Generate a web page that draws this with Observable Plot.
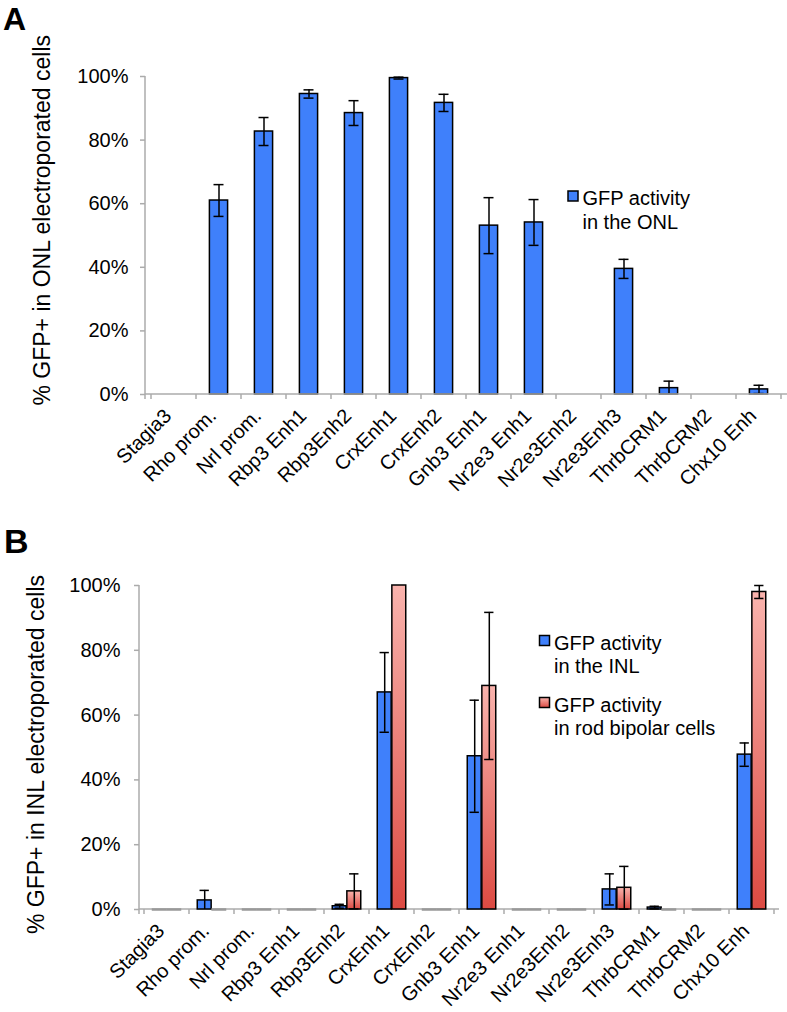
<!DOCTYPE html>
<html>
<head>
<meta charset="utf-8">
<script src="https://cdn.jsdelivr.net/npm/d3@7"></script>
<script src="https://cdn.jsdelivr.net/npm/@observablehq/plot@0.6"></script>
<style>
  body { margin: 0; background: #fff; font-family: "Liberation Sans", Arial, Helvetica, sans-serif; }
  #wrap { position: relative; width: 787px; height: 1012px; overflow: hidden; background: #fff; }
  #wrap svg { position: absolute; left: 0; overflow: visible; }
</style>
</head>
<body>
<div id="wrap"></div>
<script>
// ---------- data ----------
const categories = ["Stagia3", "Rho prom.", "Nrl prom.", "Rbp3 Enh1", "Rbp3Enh2", "CrxEnh1", "CrxEnh2",
  "Gnb3 Enh1", "Nr2e3 Enh1", "Nr2e3Enh2", "Nr2e3Enh3", "ThrbCRM1", "ThrbCRM2", "Chx10 Enh"];
// Panel A: GFP activity in the ONL (%)
const onlValues = [0, 61, 82.7, 94.5, 88.5, 99.5, 91.7, 53.1, 54.1, 0, 39.5, 2, 0, 1.6];
const onlErrors = [0, 5, 4.4, 1.3, 3.9, 0.3, 2.7, 8.8, 7.2, 0, 3, 2.2, 0, 1.3];
// Panel B: GFP activity in the INL (%)
const inlValues = [0, 2.8, 0, 0, 1.0, 67, 0, 47.3, 0, 0, 6.2, 0.6, 0, 47.8];
const inlErrors = [0, 3.1, 0, 0, 0.6, 12.3, 0, 17.3, 0, 0, 4.8, 0.4, 0, 3.6];
// Panel B: GFP activity in rod bipolar cells (%)
const rodValues = [0, 0, 0, 0, 5.6, 100, 0, 69, 0, 0, 6.7, 0, 0, 98];
const rodErrors = [0, 0, 0, 0, 5.4, 0, 0, 22.7, 0, 0, 6.6, 0, 0, 2];
const yTicks = [0, 20, 40, 60, 80, 100];
const legendA = ["GFP activity", "in the ONL"];
const legendInl = ["GFP activity", "in the INL"];
const legendRod = ["GFP activity", "in rod bipolar cells"];
const yLabelA = "% GFP+ in ONL electroporated cells";
const yLabelB = "% GFP+ in INL electroporated cells";

// ---------- styles ----------
const BLUE = "#3f80fb";
const AXIS = "#ababab";
const FONT = "'Liberation Sans', Arial, Helvetica, sans-serif";

const rows = (vals, errs) => categories.map((c, i) => ({category: c, value: vals[i], err: errs[i]}));
const dataA = rows(onlValues, onlErrors);
const dataInl = rows(inlValues, inlErrors);
const dataRod = rows(rodValues, rodErrors);
const nz = d => d.value > 0;
const hasErr = d => d.err > 0;
const lowErr = d => d.err > 0 && d.value - d.err > 0;

// custom mark drawing the axis lines and category boundary ticks with Plot's scales
function axisFrame() {
  return (index, scales, values, dims) => {
    const {x, y} = scales;
    const g = d3.create("svg:g").attr("stroke", AXIS).attr("stroke-width", 1.5).attr("fill", "none");
    const x0 = dims.marginLeft, x1 = dims.width - dims.marginRight;
    const yb = y(0), yt = y(100);
    g.append("line").attr("x1", x0).attr("x2", x0).attr("y1", yt).attr("y2", yb + 5);
    g.append("line").attr("x1", x0).attr("x2", x1).attr("y1", yb).attr("y2", yb);
    const bw = x.bandwidth();
    const dom = x.domain();
    const bounds = dom.map(c => x(c)).concat([x(dom[dom.length - 1]) + bw]);
    for (const b of bounds) g.append("line").attr("x1", b).attr("x2", b).attr("y1", yb).attr("y2", yb + 5);
    return g.node();
  };
}

const commonY = {domain: [0, 100], ticks: yTicks};
const axisYOpts = {ticks: yTicks, tickFormat: d => d + "%", tickSize: 5, tickPadding: 12, stroke: AXIS, strokeWidth: 1.5, label: null, fontSize: 20};
const axisXOpts = {tickRotate: -45, tickSize: 0, tickPadding: 18, label: null, fontSize: 20, dx: -6};

// ---------- Panel A ----------
const plotA = Plot.plot({
  width: 787, height: 480,
  marginLeft: 145, marginRight: 0, marginTop: 76, marginBottom: 86,
  style: {fontFamily: FONT, fontSize: "20px", color: "black", background: "transparent", overflow: "visible"},
  x: {domain: categories, padding: 0},
  y: commonY,
  marks: [
    Plot.barY(dataA.filter(nz), {x: "category", y: "value", fill: BLUE, stroke: "black", strokeWidth: 1.5, insetLeft: 13.4, insetRight: 13.4}),
    Plot.ruleX(dataA.filter(hasErr), {x: "category", y1: d => Math.max(0, d.value - d.err), y2: d => d.value + d.err, stroke: "black", strokeWidth: 1.5}),
    Plot.tickY(dataA.filter(hasErr), {x: "category", y: d => d.value + d.err, stroke: "black", strokeWidth: 1.5, insetLeft: 17.5, insetRight: 17.5}),
    Plot.tickY(dataA.filter(lowErr), {x: "category", y: d => d.value - d.err, stroke: "black", strokeWidth: 1.5, insetLeft: 17.5, insetRight: 17.5}),
    axisFrame(),
    Plot.axisY(axisYOpts),
    Plot.axisX(axisXOpts)
  ]
});

// ---------- Panel B ----------
const BW = 14.6; // bar width in px
const half = BW / 2;
const barInset = 45.7 / 2 - half;
const errInset = 45.7 / 2 - 5;
function seriesMarks(data, fill, dx) {
  return [
    Plot.tickY(data.filter(d => d.value === 0), {x: "category", y: 0, stroke: "#999999", strokeWidth: 2.5, insetLeft: barInset - 0.5, insetRight: barInset - 0.5, dx}),
    Plot.barY(data.filter(nz), {x: "category", y: "value", fill, stroke: "black", strokeWidth: 1.5, insetLeft: barInset, insetRight: barInset, dx}),
    Plot.ruleX(data.filter(hasErr), {x: "category", y1: d => Math.max(0, d.value - d.err), y2: d => d.value + d.err, stroke: "black", strokeWidth: 1.5, dx}),
    Plot.tickY(data.filter(hasErr), {x: "category", y: d => d.value + d.err, stroke: "black", strokeWidth: 1.5, insetLeft: errInset, insetRight: errInset, dx}),
    Plot.tickY(data.filter(lowErr), {x: "category", y: d => d.value - d.err, stroke: "black", strokeWidth: 1.5, insetLeft: errInset, insetRight: errInset, dx})
  ];
}
const plotB = Plot.plot({
  width: 787, height: 532,
  marginLeft: 139, marginRight: 8, marginTop: 105, marginBottom: 103,
  style: {fontFamily: FONT, fontSize: "20px", color: "black", background: "transparent", overflow: "visible"},
  x: {domain: categories, padding: 0},
  y: commonY,
  marks: [
    axisFrame(),
    ...seriesMarks(dataInl, BLUE, -half),
    ...seriesMarks(dataRod, "url(#pinkGrad)", half),
    Plot.axisY({...axisYOpts, tickPadding: 14}),
    Plot.axisX(axisXOpts)
  ]
});

const wrap = document.getElementById("wrap");
plotA.style.top = "0px";
plotB.style.top = "480px";
wrap.appendChild(plotB);
wrap.appendChild(plotA);

// gradient for the pink series
const defs = d3.select(plotB).insert("defs", ":first-child");
const grad = defs.append("linearGradient").attr("id", "pinkGrad").attr("x1", 0).attr("y1", 0).attr("x2", 0).attr("y2", 1);
grad.append("stop").attr("offset", "0%").attr("stop-color", "#f9b3ad");
grad.append("stop").attr("offset", "100%").attr("stop-color", "#dc4a42");

// ---------- annotations ----------
function addText(svg, txt, x, y, opts = {}) {
  const t = d3.select(svg).append("text").attr("x", x).attr("y", y).text(txt)
    .attr("font-family", FONT).attr("font-size", opts.size || 20).attr("fill", "black")
    .attr("text-anchor", opts.anchor || "start");
  if (opts.weight) t.attr("font-weight", opts.weight);
  if (opts.rotate) t.attr("transform", `rotate(${opts.rotate},${x},${y})`);
  return t;
}
function addLegend(svg, lines, fill, x, y) {
  d3.select(svg).append("rect").attr("x", x).attr("y", y - 14).attr("width", 10).attr("height", 10)
    .attr("fill", fill).attr("stroke", "black").attr("stroke-width", 1.5);
  lines.forEach((l, i) => addText(svg, l, x + 14.5, y + i * 23.5));
}

addText(plotA, "A", 3, 30, {size: 32, weight: "bold"});
addText(plotA, yLabelA, 49.5, 35, {size: 23, anchor: "end", rotate: -90});
addLegend(plotA, legendA, BLUE, 568, 205);

addText(plotB, "B", 4, 73, {size: 34, weight: "bold"});
addText(plotB, yLabelB, 43.5, 95, {size: 23, anchor: "end", rotate: -90});
addLegend(plotB, legendInl, BLUE, 539.5, 649.5 - 480);
addLegend(plotB, legendRod, "url(#pinkGrad)", 539.5, 711.5 - 480);
</script>
</body>
</html>
